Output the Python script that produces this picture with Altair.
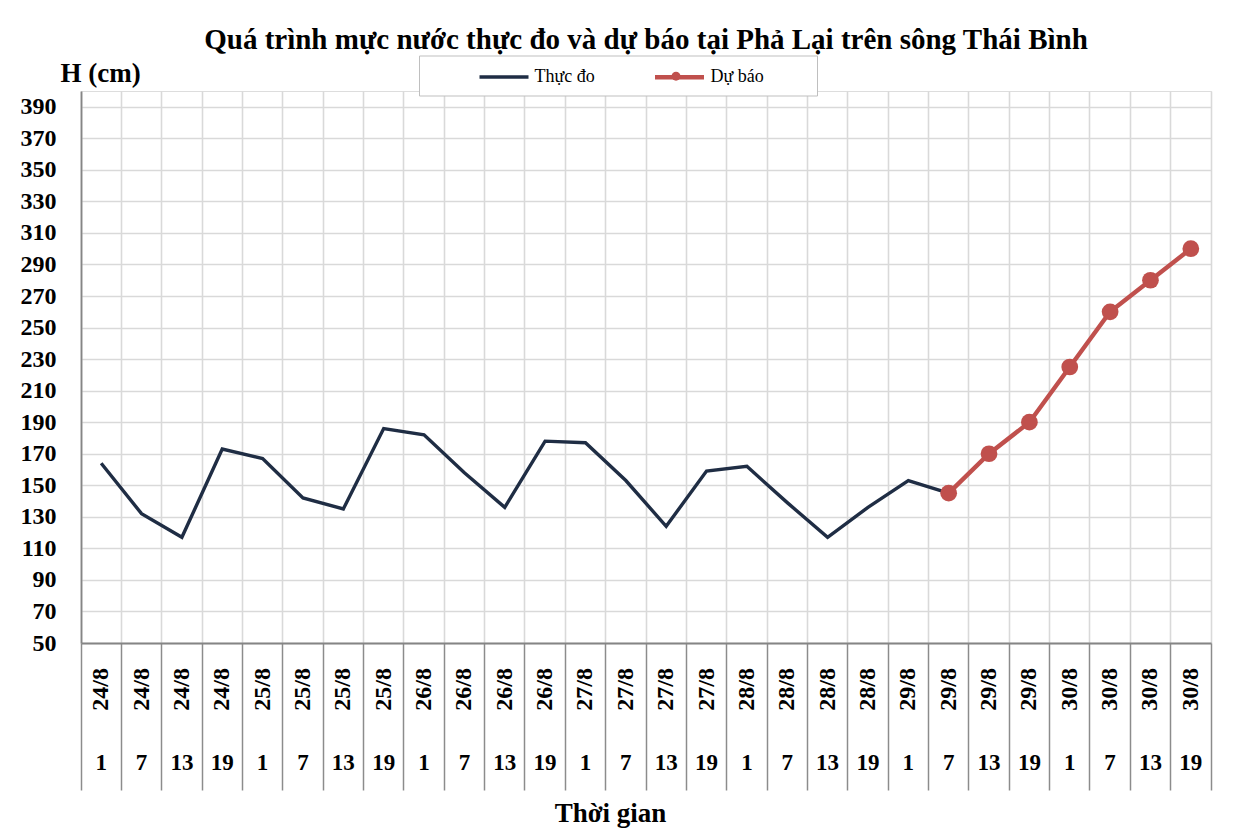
import altair as alt
import pandas as pd

# ---- data ----
dates = ["24/8", "25/8", "26/8", "27/8", "28/8", "29/8", "30/8"]
hours = ["1", "7", "13", "19"]
actual_values = [164, 132, 117, 173, 167, 142, 135, 186, 182, 158, 136,
                 178, 177, 153, 124, 159, 162, 139, 117, 136, 153, 145]
forecast_values = [145, 170, 190, 225, 260, 280, 300]
forecast_start = 21  # index of 29/8 7h
series_names = ["Thực đo", "Dự báo"]
series_colors = ["#1F2D44", "#C0504D"]
y_ticks = list(range(50, 400, 20))

FONT = "Liberation Serif"

cat_rows = []
for d in dates:
    for h in hours:
        cat_rows.append({"key": f"{d} {h}", "date": d, "hour": h})
cats = pd.DataFrame(cat_rows)
keys = list(cats["key"])

rows = []
for i, v in enumerate(actual_values):
    rows.append({"key": keys[i], "value": v, "series": series_names[0]})
for j, v in enumerate(forecast_values):
    rows.append({"key": keys[forecast_start + j], "value": v, "series": series_names[1]})
df = pd.DataFrame(rows)
fc = df[df["series"] == series_names[1]].copy()
fc["marker"] = series_names[1]

W, H = 1130, 552

xscale = alt.Scale(type="band", domain=keys, paddingInner=0, paddingOuter=0)
yscale = alt.Scale(domain=[50, 400], nice=False, zero=False)
cscale = alt.Scale(domain=series_names, range=series_colors)

x_axis = alt.Axis(
    title="Thời gian", titleFont=FONT, titleFontSize=27, titleFontWeight="bold",
    titleColor="black", titleX=529, titleY=170, titleBaseline="middle",
    titleAlign="center", titleAnchor="start",
    labels=False, ticks=True, tickSize=147, tickColor="#8C8C8C", tickWidth=1.5,
    bandPosition=1, tickExtra=True,
    grid=True, gridColor="#D9D9D9", gridWidth=1.6,
    domain=True, domainColor="#858585", domainWidth=1.8,
)
y_axis = alt.Axis(
    values=y_ticks, tickCount=len(y_ticks) + 2, title="H (cm)", titleAngle=0,
    titleAlign="left", titleBaseline="middle", titleX=-21, titleY=-18,
    titleFont=FONT, titleFontSize=27, titleFontWeight="bold", titleColor="black",
    labelFont=FONT, labelFontSize=24, labelFontWeight="bold", labelColor="black",
    labelPadding=25, labelOverlap=False, ticks=False,
    grid=True, gridColor="#D9D9D9", gridWidth=1.6,
    domain=True, domainColor="#858585", domainWidth=1.8,
)

legend = alt.Legend(
    title=" ", titleOrient="right", titlePadding=44, titleFontSize=10,
    orient="none", legendX=338, legendY=-35.5, direction="horizontal",
    symbolType="M-2.45,0H2.45", symbolSize=400, symbolStrokeWidth=2,
    labelFont=FONT, labelFontSize=18, labelColor="black", labelOffset=18.5,
    symbolOffset=64, columnPadding=8,
    strokeColor="#BFBFBF", fillColor="white", padding=9,
)
dot_legend = alt.Legend(
    title=None, orient="none", legendX=590.5, legendY=-19.3,
    symbolType="circle", symbolSize=80, symbolStrokeWidth=0,
    labelExpr="''", labelFontSize=8, padding=0, zindex=2,
)

lines = alt.Chart(df).mark_line().encode(
    x=alt.X("key:O", scale=xscale, axis=x_axis, bandPosition=0.5),
    y=alt.Y("value:Q", scale=yscale, axis=y_axis),
    color=alt.Color("series:N", scale=cscale, legend=legend),
    strokeWidth=alt.StrokeWidth("series:N",
                                scale=alt.Scale(domain=series_names, range=[3.4, 4.4]),
                                legend=None),
    detail="series:N",
)

points = alt.Chart(fc).mark_point(filled=True, size=280, opacity=1).encode(
    x=alt.X("key:O", bandPosition=0.5),
    y=alt.Y("value:Q"),
    fill=alt.Fill("marker:N",
                  scale=alt.Scale(domain=[series_names[1]], range=[series_colors[1]]),
                  legend=dot_legend),
)

date_labels = alt.Chart(cats).mark_text(
    angle=270, align="right", baseline="middle", font=FONT, fontSize=24,
    fontWeight="bold", color="black"
).encode(
    x=alt.X("key:O", bandPosition=0.5),
    y=alt.value(H + 25),
    text="date:N",
)

hour_labels = alt.Chart(cats).mark_text(
    align="center", baseline="middle", font=FONT, fontSize=23,
    fontWeight="bold", color="black"
).encode(
    x=alt.X("key:O", bandPosition=0.5),
    y=alt.value(H + 120),
    text="hour:N",
)

chart = alt.layer(lines, points, date_labels, hour_labels).properties(
    width=W, height=H,
    title=alt.Title(
        "Quá trình mực nước thực đo và dự báo tại Phả Lại trên sông Thái Bình",
        font=FONT, fontSize=29, fontWeight="bold", color="black",
        anchor="middle", offset=0,
    ),
    autosize=alt.AutoSizeParams(type="none"),
    padding={"left": 73, "top": 83, "right": 40, "bottom": 187},
).configure_view(
    stroke="#858585", strokeWidth=1.8
).configure(background="white")

chart.save("out.html", embed_options={"renderer": "svg", "actions": False})
